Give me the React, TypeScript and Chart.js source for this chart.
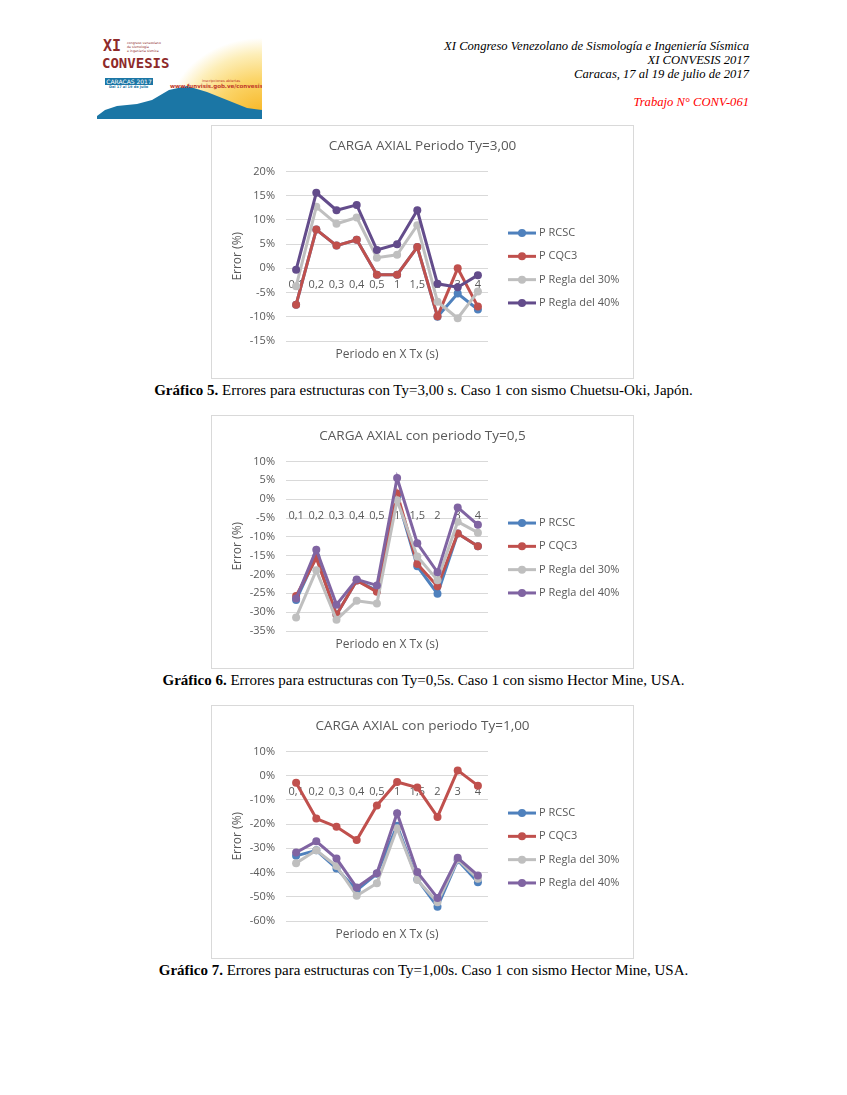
import React, { useEffect, useRef } from "react";
import { Chart, registerables } from "chart.js";
Chart.register(...registerables);

const FONT = "'Open Sans', sans-serif";
const TEXT_GREY = "#595959";
const GRID_GREY = "#d9d9d9";

const periodLabels = ["0,1", "0,2", "0,3", "0,4", "0,5", "1", "1,5", "2", "3", "4"];
const seriesNames = ["P RCSC", "P CQC3", "P Regla del 30%", "P Regla del 40%"];
const xTitle = "Periodo en X Tx (s)";
const yTitle = "Error (%)";

// Gráfico 5 (Ty = 3,00)
const g5Title = "CARGA AXIAL Periodo Ty=3,00";
const g5Rcsc = [-7.5, 8.0, 4.7, 5.9, -1.3, -1.3, 4.4, -10.0, -5.2, -8.5];
const g5Cqc3 = [-7.5, 8.0, 4.7, 5.9, -1.3, -1.3, 4.4, -9.9, 0.0, -7.9];
const g5R30 = [-3.7, 12.7, 9.2, 10.5, 2.2, 2.8, 8.9, -6.9, -10.3, -4.8];
const g5R40 = [-0.3, 15.6, 12.0, 13.1, 3.8, 5.0, 12.0, -3.2, -3.9, -1.4];
const g5Axis = { min: -15, max: 20, step: 5 };

// Gráfico 6 (Ty = 0,5)
const g6Title = "CARGA AXIAL con periodo Ty=0,5";
const g6Rcsc = [-26.8, -15.2, -30.7, -21.6, -24.3, 0.6, -17.8, -25.1, -9.1, -12.5];
const g6Cqc3 = [-25.7, -15.6, -30.7, -21.6, -24.6, 1.5, -17.2, -23.1, -9.1, -12.5];
const g6R30 = [-31.4, -18.9, -32.0, -27.0, -27.7, -0.3, -15.2, -21.5, -6.0, -8.9];
const g6R40 = [-26.4, -13.4, -28.0, -21.3, -22.9, 5.6, -11.7, -19.4, -2.2, -6.8];
const g6Axis = { min: -35, max: 10, step: 5 };

// Gráfico 7 (Ty = 1,00)
const g7Title = "CARGA AXIAL con periodo Ty=1,00";
const g7Rcsc = [-33.1, -30.8, -38.3, -47.3, -40.5, -20.7, -42.8, -54.1, -34.9, -44.0];
const g7Cqc3 = [-2.9, -17.7, -21.1, -26.6, -12.3, -2.6, -4.9, -17.0, 2.2, -4.1];
const g7R30 = [-36.1, -30.8, -37.3, -49.6, -44.4, -21.7, -43.1, -52.3, -34.6, -42.5];
const g7R40 = [-31.7, -27.1, -34.2, -46.2, -40.3, -15.5, -39.8, -50.5, -33.9, -41.2];
const g7Axis = { min: -60, max: 10, step: 10 };

const colorsA = ["#4F81BD", "#C0504D", "#BFBFBF", "#634C8B"];
const colorsB = ["#4F81BD", "#C0504D", "#BFBFBF", "#8064A2"];

const decorPlugin = {
  id: "decor",
  afterDraw(chart: any, _args: any, opts: any) {
    const { ctx, chartArea } = chart;
    ctx.save();
    ctx.fillStyle = TEXT_GREY;
    ctx.textAlign = "center";
    ctx.textBaseline = "middle";
    ctx.font = `13.5px ${FONT}`;
    ctx.fillText(opts.title, chart.width / 2, 20);
    ctx.font = `12px ${FONT}`;
    ctx.fillText(xTitle, (chartArea.left + chartArea.right) / 2, chartArea.bottom + 14);
    ctx.save();
    ctx.translate(26, (chartArea.top + chartArea.bottom) / 2);
    ctx.rotate(-Math.PI / 2);
    ctx.fillText(yTitle, 0, 0);
    ctx.restore();
    // legend
    const x0 = chartArea.right + 20;
    const center = 142;
    chart.data.datasets.forEach((ds: any, i: number) => {
      const y = center + (i - 1.5) * 23.3;
      ctx.strokeStyle = ds.borderColor;
      ctx.lineWidth = 3;
      ctx.beginPath();
      ctx.moveTo(x0, y);
      ctx.lineTo(x0 + 28, y);
      ctx.stroke();
      ctx.fillStyle = ds.borderColor;
      ctx.beginPath();
      ctx.arc(x0 + 14, y, 4, 0, Math.PI * 2);
      ctx.fill();
      ctx.fillStyle = TEXT_GREY;
      ctx.textAlign = "left";
      ctx.font = `11px ${FONT}`;
      ctx.fillText(ds.label, x0 + 31, y);
    });
    ctx.restore();
  },
};

type Props = {
  title: string;
  series: number[][];
  axis: { min: number; max: number; step: number };
  colors: string[];
  top: number;
};

function ErrorChart({ title, series, axis, colors, top }: Props) {
  const ref = useRef<HTMLCanvasElement | null>(null);
  useEffect(() => {
    if (!ref.current) return;
    const chart = new Chart(ref.current, {
      type: "line",
      data: {
        labels: periodLabels,
        datasets: series.map((vals, i) => ({
          label: seriesNames[i],
          data: vals,
          borderColor: colors[i],
          backgroundColor: colors[i],
          borderWidth: 3,
          pointRadius: 4,
          pointHoverRadius: 4,
          pointBorderWidth: 0,
          tension: 0,
          order: series.length - 1 - i,
        })),
      },
      options: {
        responsive: false,
        animation: false,
        layout: { padding: { left: 0, top: 45.5, right: 145, bottom: 37 } },
        plugins: {
          legend: { display: false },
          tooltip: { enabled: false },
          title: { display: false },
          decor: { title },
        } as any,
        scales: {
          x: {
            type: "category",
            offset: true,
            position: { y: 0 } as any,
            grid: { display: false, drawTicks: false },
            border: { display: false },
            ticks: {
              color: TEXT_GREY,
              font: { family: FONT, size: 11 },
              padding: 10,
              maxRotation: 0,
              autoSkip: false,
            },
          },
          y: {
            min: axis.min,
            max: axis.max,
            grid: { color: GRID_GREY, lineWidth: 1, drawTicks: false },
            border: { display: false },
            ticks: {
              stepSize: axis.step,
              color: TEXT_GREY,
              font: { family: FONT, size: 11 },
              padding: 11,
              callback: (v: any) => `${v}%`,
            },
            afterFit: (s: any) => {
              s.width = 74;
            },
          },
        },
      },
      plugins: [decorPlugin],
    });
    return () => chart.destroy();
  }, []);
  return (
    <div
      style={{
        position: "absolute",
        left: 211,
        top,
        width: 421,
        height: 252,
        border: "1px solid #d9d9d9",
        background: "#fff",
      }}
    >
      <canvas ref={ref} width={421} height={252} style={{ display: "block" }} />
    </div>
  );
}

function Caption({ top, num, text }: { top: number; num: string; text: string }) {
  return (
    <div
      style={{
        position: "absolute",
        left: 0,
        width: 847,
        top,
        textAlign: "center",
        fontFamily: "'Liberation Serif', 'Times New Roman', serif",
        fontSize: 15,
        lineHeight: "18px",
        color: "#000",
        whiteSpace: "nowrap",
      }}
    >
      <b>{num}</b> {text}
    </div>
  );
}

function Logo() {
  return (
    <div style={{ position: "absolute", left: 97, top: 38, width: 165, height: 81, overflow: "hidden", background: "#fff" }}>
      <svg width={165} height={81} style={{ position: "absolute", left: 0, top: 0 }}>
        <defs>
          <radialGradient id="sun" cx="1" cy="1" r="1">
            <stop offset="0" stopColor="#f7b21b" />
            <stop offset="0.5" stopColor="#fbd56a" />
            <stop offset="0.8" stopColor="#fdeeb8" />
            <stop offset="1" stopColor="#ffffff" />
          </radialGradient>
        </defs>
        <rect x={70} y={0} width={95} height={81} fill="url(#sun)" />
        <path d="M0 78 L8 72 L20 68 L40 66 L55 62 L72 52 L90 48 L110 54 L130 62 L150 70 L165 72 L165 81 L0 81 Z" fill="#1b76a5" />
      </svg>
      <div style={{ position: "absolute", left: 6, top: 0, fontFamily: "'DejaVu Sans Mono', monospace", color: "#8e2a2a", fontSize: 15, fontWeight: "bold", lineHeight: "17px" }}>XI</div>
      <div style={{ position: "absolute", left: 30, top: 3, fontFamily: "'DejaVu Sans', sans-serif", color: "#8e2a2a", fontSize: 3.2, lineHeight: "4px" }}>
        congreso venezolano<br />de sismología<br />e ingeniería sísmica
      </div>
      <div style={{ position: "absolute", left: 5, top: 17, fontFamily: "'DejaVu Sans Mono', monospace", color: "#8e2a2a", fontSize: 14, fontWeight: "bold", lineHeight: "16px" }}>CONVESIS</div>
      <div style={{ position: "absolute", left: 8, top: 40, width: 48, height: 7, background: "#1b76a5", color: "#fff", fontFamily: "'DejaVu Sans', sans-serif", fontSize: 6, lineHeight: "7px", textAlign: "center" }}>CARACAS 2017</div>
      <div style={{ position: "absolute", left: 12, top: 47, fontFamily: "'DejaVu Sans', sans-serif", color: "#1b76a5", fontSize: 3.5, lineHeight: "4px", fontWeight: "bold" }}>Del 17 al 19 de julio</div>
      <div style={{ position: "absolute", left: 105, top: 41, fontFamily: "'DejaVu Sans', sans-serif", color: "#c0392b", fontSize: 3.5, lineHeight: "4px" }}>inscripciones abiertas</div>
      <div style={{ position: "absolute", left: 73, top: 45, fontFamily: "'DejaVu Sans', sans-serif", color: "#c0392b", fontSize: 5.5, lineHeight: "6px", fontWeight: "bold" }}>www.funvisis.gob.ve/convesis</div>
    </div>
  );
}

export default function App() {
  const headerStyle: React.CSSProperties = {
    position: "absolute",
    right: 847 - 749,
    textAlign: "right",
    fontFamily: "'Liberation Serif', 'Times New Roman', serif",
    fontStyle: "italic",
    fontSize: 12.6,
    lineHeight: "14px",
    whiteSpace: "nowrap",
  };
  return (
    <div style={{ position: "absolute", left: 0, top: 0, width: 847, height: 1095, background: "#fff" }}>
      <Logo />
      <div style={{ ...headerStyle, top: 39 }}>
        XI Congreso Venezolano de Sismología e Ingeniería Sísmica<br />
        XI CONVESIS 2017<br />
        Caracas, 17 al 19 de julio de 2017
      </div>
      <div style={{ ...headerStyle, top: 95, color: "#ff0000" }}>Trabajo N° CONV-061</div>

      <ErrorChart title={g5Title} series={[g5Rcsc, g5Cqc3, g5R30, g5R40]} axis={g5Axis} colors={colorsA} top={125} />
      <Caption top={381} num="Gráfico 5." text="Errores para estructuras con Ty=3,00 s. Caso 1 con sismo Chuetsu-Oki, Japón." />

      <ErrorChart title={g6Title} series={[g6Rcsc, g6Cqc3, g6R30, g6R40]} axis={g6Axis} colors={colorsB} top={415} />
      <Caption top={671} num="Gráfico 6." text="Errores para estructuras con Ty=0,5s. Caso 1 con sismo Hector Mine, USA." />

      <ErrorChart title={g7Title} series={[g7Rcsc, g7Cqc3, g7R30, g7R40]} axis={g7Axis} colors={colorsB} top={705} />
      <Caption top={961} num="Gráfico 7." text="Errores para estructuras con Ty=1,00s. Caso 1 con sismo Hector Mine, USA." />
    </div>
  );
}
